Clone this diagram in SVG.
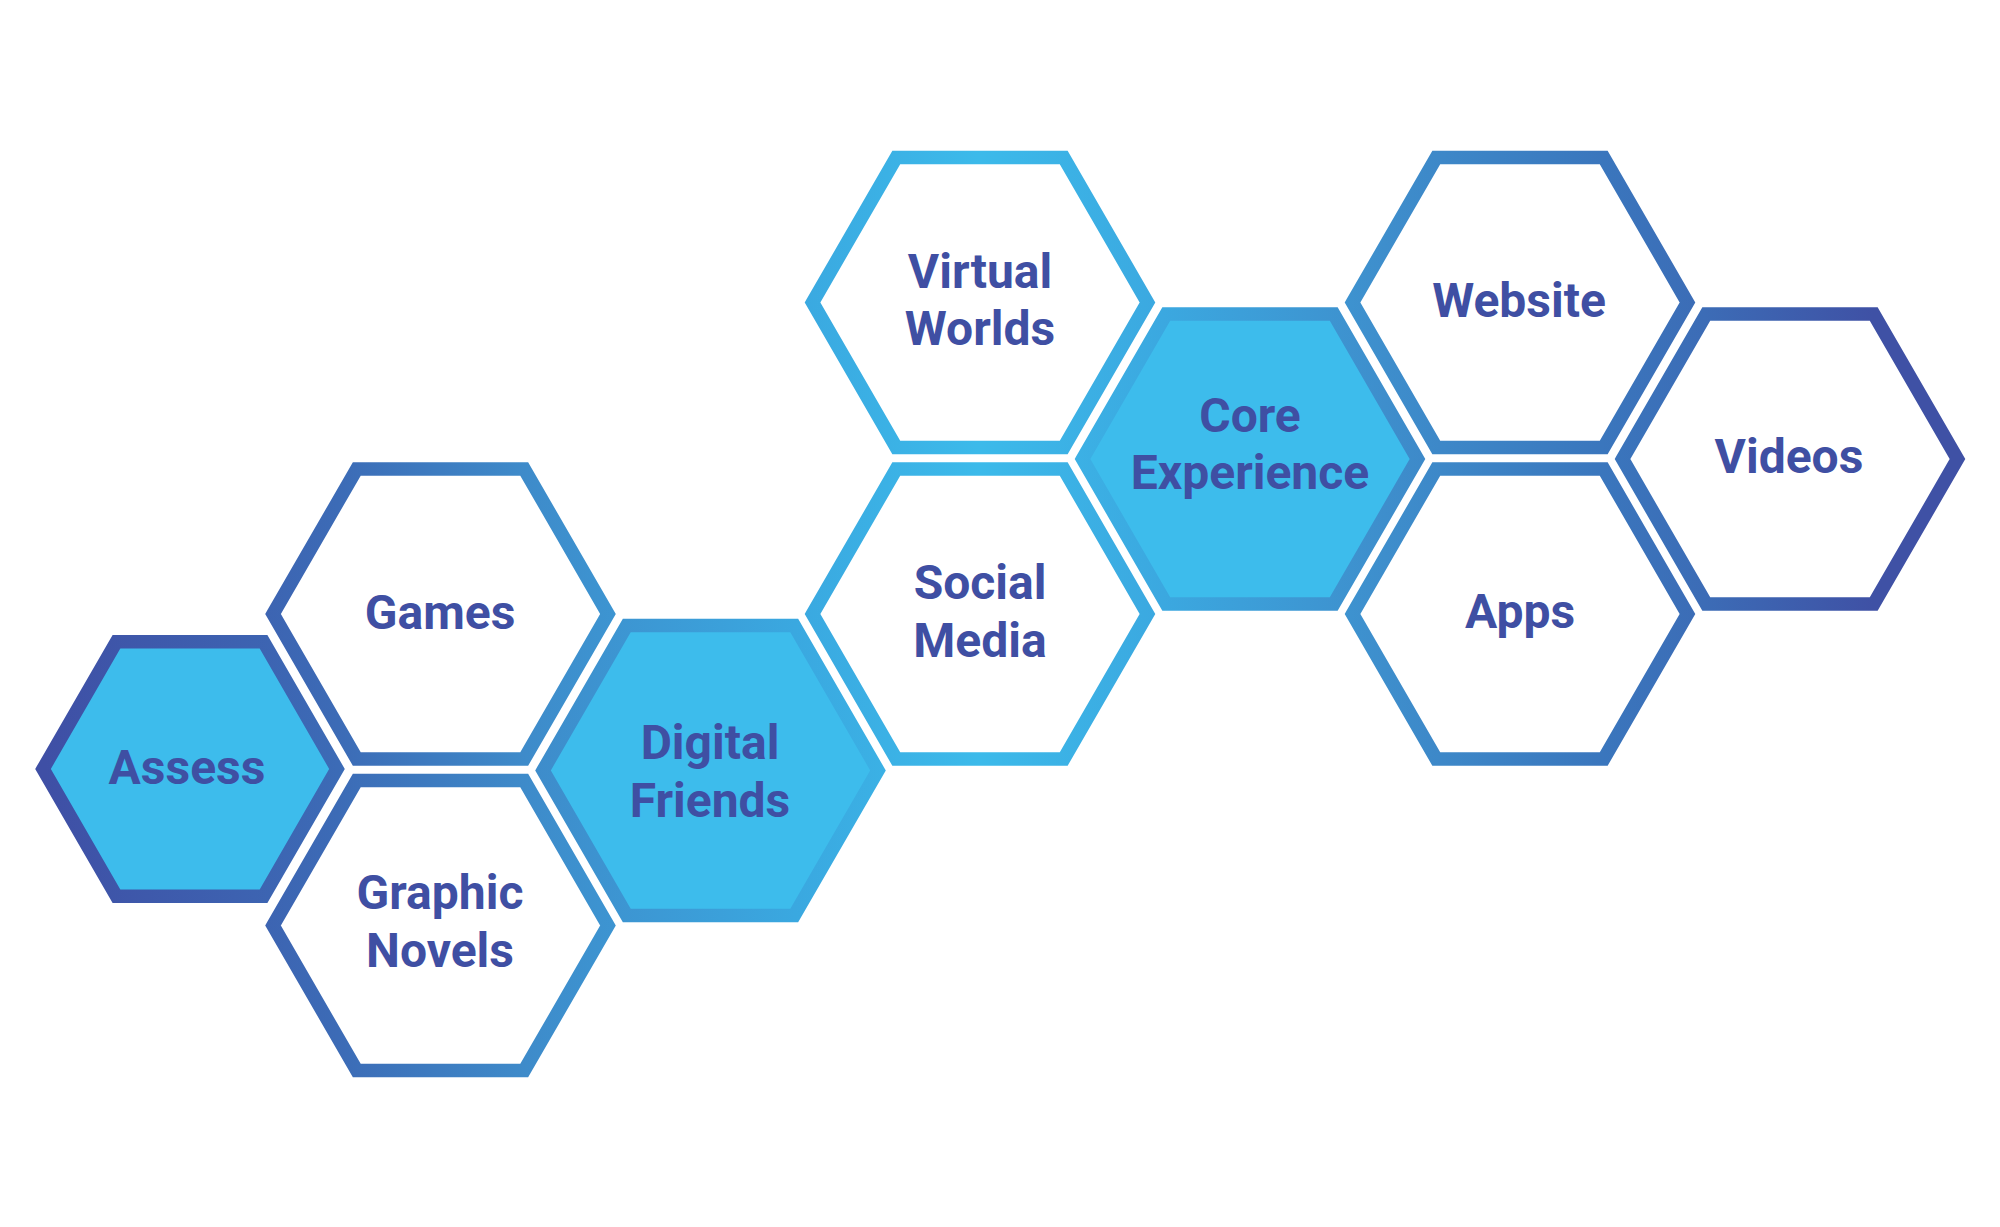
<svg xmlns="http://www.w3.org/2000/svg" width="2000" height="1227" viewBox="0 0 2000 1227">
  <defs>
    <linearGradient id="edge" gradientUnits="userSpaceOnUse" x1="45" y1="0" x2="1873" y2="0">
      <stop offset="0" stop-color="#3F4FA5"/>
      <stop offset="0.16" stop-color="#3C6BB6"/>
      <stop offset="0.263" stop-color="#3E8BCA"/>
      <stop offset="0.41" stop-color="#3AA8E0"/>
      <stop offset="0.511" stop-color="#3CBAEA"/>
      <stop offset="0.612" stop-color="#3BA8E0"/>
      <stop offset="0.733" stop-color="#3E8ECC"/>
      <stop offset="0.852" stop-color="#3A76BD"/>
      <stop offset="0.908" stop-color="#3C6CB6"/>
      <stop offset="1" stop-color="#3F51A5"/>
    </linearGradient>
  </defs>
  <style>
    .hex { stroke: url(#edge); stroke-width: 13.5; stroke-linejoin: miter; fill: #FFFFFF; }
    .core { fill: #3DBCEC; }
    .lbl { font-family: Roboto, "Liberation Sans", sans-serif; font-weight: 700; font-size: 48px; fill: #3F4FA3; text-anchor: middle; }
  </style>
  <rect width="2000" height="1227" fill="#FFFFFF"/>
  <g id="connectors"/>
  <g id="assess">
    <polygon class="hex core" points="43,769 116.5,641.7 263.5,641.7 337,769 263.5,896.3 116.5,896.3"/>
    <text class="lbl" x="187" y="784">Assess</text>
  </g>
  <g id="games">
    <polygon class="hex" points="273,614 356.75,469 524.25,469 608,614 524.25,759 356.75,759"/>
    <text class="lbl" x="440" y="629">Games</text>
  </g>
  <g id="graphic-novels">
    <polygon class="hex" points="273,925.5 356.75,780.5 524.25,780.5 608,925.5 524.25,1070.5 356.75,1070.5"/>
    <text class="lbl" x="440" y="909">Graphic</text>
    <text class="lbl" x="440" y="967">Novels</text>
  </g>
  <g id="digital-friends">
    <polygon class="hex core" points="543,770.5 626.75,625.5 794.25,625.5 878,770.5 794.25,915.5 626.75,915.5"/>
    <text class="lbl" x="710" y="759">Digital</text>
    <text class="lbl" x="710" y="816.5">Friends</text>
  </g>
  <g id="virtual-worlds">
    <polygon class="hex" points="812.5,302.5 896.25,157.5 1063.75,157.5 1147.5,302.5 1063.75,447.5 896.25,447.5"/>
    <text class="lbl" x="980" y="287.5">Virtual</text>
    <text class="lbl" x="980" y="345">Worlds</text>
  </g>
  <g id="social-media">
    <polygon class="hex" points="812.5,614 896.25,469 1063.75,469 1147.5,614 1063.75,759 896.25,759"/>
    <text class="lbl" x="980" y="599">Social</text>
    <text class="lbl" x="980" y="656.5">Media</text>
  </g>
  <g id="core-experience">
    <polygon class="hex core" points="1082.5,459 1166.25,314 1333.75,314 1417.5,459 1333.75,604 1166.25,604"/>
    <text class="lbl" x="1250" y="432">Core</text>
    <text class="lbl" x="1250" y="489">Experience</text>
  </g>
  <g id="website">
    <polygon class="hex" points="1352.5,302.5 1436.25,157.5 1603.75,157.5 1687.5,302.5 1603.75,447.5 1436.25,447.5"/>
    <text class="lbl" x="1519" y="316.5">Website</text>
  </g>
  <g id="apps">
    <polygon class="hex" points="1352.5,614 1436.25,469 1603.75,469 1687.5,614 1603.75,759 1436.25,759"/>
    <text class="lbl" x="1520" y="627.5">Apps</text>
  </g>
  <g id="videos">
    <polygon class="hex" points="1622.5,459 1706.25,314 1873.75,314 1957.5,459 1873.75,604 1706.25,604"/>
    <text class="lbl" x="1789" y="473">Videos</text>
  </g>
</svg>
